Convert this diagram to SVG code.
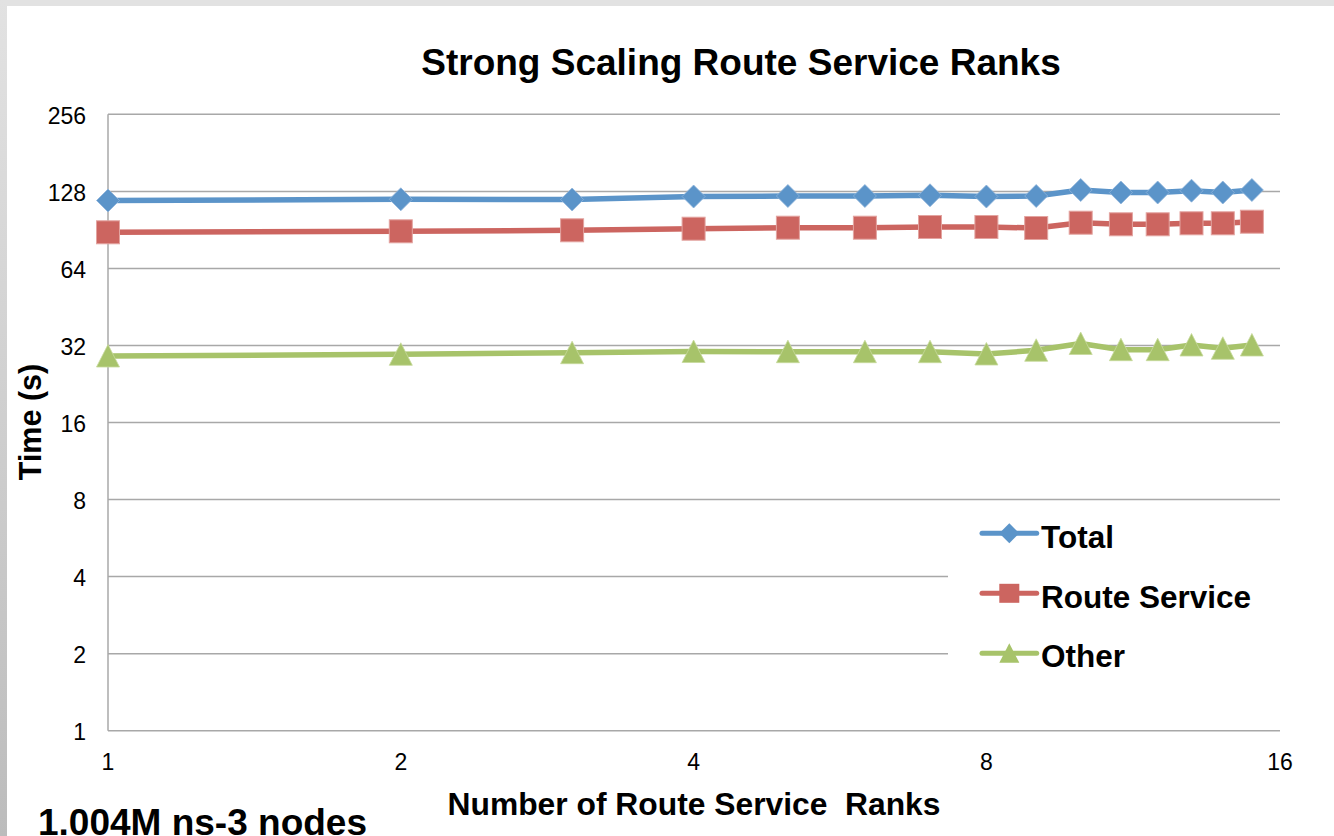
<svg xmlns="http://www.w3.org/2000/svg" width="1334" height="836" viewBox="0 0 1334 836">
  <style>
    text { font-family: "Liberation Sans", Arial, sans-serif; fill: #000; }
    .tick { font-size: 23px; }
    .ylab { text-anchor: end; }
    .xlab { text-anchor: middle; }
    .bold { font-weight: bold; }
    .grid { stroke: #a8a8a8; stroke-width: 1.5; fill: none; }
    .series { fill: none; stroke-width: 5.5; stroke-linejoin: round; stroke-linecap: round; }
    .legline { fill: none; stroke-width: 5; stroke-linecap: round; }
  </style>
  <defs>
    <linearGradient id="edgeLeft" x1="0" y1="0" x2="0" y2="1">
      <stop offset="0" stop-color="#e2e2e2"/>
      <stop offset="1" stop-color="#bcbcbc"/>
    </linearGradient>
    <!-- series markers -->
    <marker id="mDiamond" markerUnits="userSpaceOnUse" viewBox="-13 -13 26 26" markerWidth="26" markerHeight="26" refX="0" refY="0" overflow="visible">
      <polygon points="0,-11.5 11.5,0 0,11.5 -11.5,0" fill="#5b94c9" stroke="#8fb4da" stroke-width="0.8"/>
    </marker>
    <marker id="mSquare" markerUnits="userSpaceOnUse" viewBox="-13 -13 26 26" markerWidth="26" markerHeight="26" refX="0" refY="0" overflow="visible">
      <rect x="-11.5" y="-11.5" width="23" height="23" fill="#cc6560" stroke="#e3a4a0" stroke-width="1"/>
    </marker>
    <marker id="mTriangle" markerUnits="userSpaceOnUse" viewBox="-13 -13 26 26" markerWidth="26" markerHeight="26" refX="0" refY="0" overflow="visible">
      <polygon points="0,-11.5 11.5,11 -11.5,11" fill="#a7c36a" stroke="#c6d99c" stroke-width="0.8"/>
    </marker>
    <!-- legend markers (slightly smaller) -->
    <marker id="lDiamond" markerUnits="userSpaceOnUse" viewBox="-11 -11 22 22" markerWidth="22" markerHeight="22" refX="0" refY="0" overflow="visible">
      <polygon points="0,-10 10,0 0,10 -10,0" fill="#5b94c9"/>
    </marker>
    <marker id="lSquare" markerUnits="userSpaceOnUse" viewBox="-11 -11 22 22" markerWidth="22" markerHeight="22" refX="0" refY="0" overflow="visible">
      <rect x="-10" y="-9.5" width="20" height="19" fill="#cc6560"/>
    </marker>
    <marker id="lTriangle" markerUnits="userSpaceOnUse" viewBox="-11 -11 22 22" markerWidth="22" markerHeight="22" refX="0" refY="0" overflow="visible">
      <polygon points="0,-10 10,9.5 -10,9.5" fill="#a7c36a"/>
    </marker>
  </defs>

  <!-- page background with the grey window edge -->
  <rect x="0" y="0" width="1334" height="836" fill="#ffffff"/>
  <rect x="0" y="0" width="1334" height="6" fill="#e2e2e2"/>
  <rect x="0" y="0" width="7" height="836" fill="url(#edgeLeft)"/>

  <!-- title -->
  <text id="title" class="bold" x="741" y="75" font-size="37" text-anchor="middle">Strong Scaling Route Service Ranks</text>

  <!-- gridlines (log2 scale, 77.05 px per doubling) -->
  <g id="grid">
    <line class="grid" x1="108" y1="114.3" x2="1280" y2="114.3"/>
    <line class="grid" x1="108" y1="191.4" x2="1280" y2="191.4"/>
    <line class="grid" x1="108" y1="268.4" x2="1280" y2="268.4"/>
    <line class="grid" x1="108" y1="345.5" x2="1280" y2="345.5"/>
    <line class="grid" x1="108" y1="422.5" x2="1280" y2="422.5"/>
    <line class="grid" x1="108" y1="499.6" x2="1280" y2="499.6"/>
    <line class="grid" x1="108" y1="576.6" x2="1280" y2="576.6"/>
    <line class="grid" x1="108" y1="653.7" x2="1280" y2="653.7"/>
    <line class="grid" x1="108" y1="730.7" x2="1280" y2="730.7"/>
    <line class="grid" x1="108" y1="114.3" x2="108" y2="730.7"/>
  </g>

  <!-- axis tick labels -->
  <g id="y-axis" class="tick ylab">
    <text x="86" y="123.8">256</text>
    <text x="86" y="200.9">128</text>
    <text x="86" y="277.9">64</text>
    <text x="86" y="355">32</text>
    <text x="86" y="432">16</text>
    <text x="86" y="509.1">8</text>
    <text x="86" y="586.1">4</text>
    <text x="86" y="663.2">2</text>
    <text x="86" y="740.2">1</text>
  </g>
  <g id="x-axis" class="tick xlab">
    <text x="108" y="769.5">1</text>
    <text x="400.8" y="769.5">2</text>
    <text x="693.6" y="769.5">4</text>
    <text x="986.4" y="769.5">8</text>
    <text x="1280" y="769.5">16</text>
  </g>

  <!-- axis titles -->
  <text id="y-title" class="bold" font-size="30.5" text-anchor="middle" transform="translate(41,422) rotate(-90)">Time (s)</text>
  <text id="x-title" class="bold" font-size="31.8" text-anchor="middle" x="694" y="815" xml:space="preserve">Number of Route Service  Ranks</text>

  <!-- legend panel (hides the gridlines behind it) -->
  <g id="legend">
    <rect x="948" y="506" width="340" height="212" fill="#ffffff"/>
    <path class="legline" d="M982,533.3 L1009.3,533.3 L1036.7,533.3" stroke="#5b94c9" marker-mid="url(#lDiamond)"/>
    <text class="bold" x="1041" y="548.3" font-size="31.5">Total</text>
    <path class="legline" d="M982,593.3 L1009.3,593.3 L1036.7,593.3" stroke="#cc6560" marker-mid="url(#lSquare)"/>
    <text class="bold" x="1041" y="607.7" font-size="31.5">Route Service</text>
    <path class="legline" d="M982,653.3 L1009.3,653.3 L1036.7,653.3" stroke="#a7c36a" marker-mid="url(#lTriangle)"/>
    <text class="bold" x="1041" y="666.7" font-size="31.5">Other</text>
  </g>

  <!-- data series: ranks 1..15, x = 108 + 292.8*log2(n) -->
  <g id="series">
    <polyline id="series-other" class="series" stroke="#a7c36a"
      marker-start="url(#mTriangle)" marker-mid="url(#mTriangle)" marker-end="url(#mTriangle)"
      points="108,356 400.8,354.3 572.1,352.7 693.6,351.5 787.9,351.7 864.9,351.7 930,351.7 986.4,354 1036.2,350.3 1080.7,343.5 1120.9,349.7 1157.7,349.7 1191.5,345 1222.8,348.3 1251.9,345"/>
    <polyline id="series-route" class="series" stroke="#cc6560"
      marker-start="url(#mSquare)" marker-mid="url(#mSquare)" marker-end="url(#mSquare)"
      points="108,232.3 400.8,231.3 572.1,230.3 693.6,228.7 787.9,227.7 864.9,227.7 930,227 986.4,227 1036.2,228 1080.7,222.7 1120.9,224.3 1157.7,224.3 1191.5,223.3 1222.8,223.3 1251.9,221.7"/>
    <polyline id="series-total" class="series" stroke="#5b94c9"
      marker-start="url(#mDiamond)" marker-mid="url(#mDiamond)" marker-end="url(#mDiamond)"
      points="108,200.5 400.8,199.3 572.1,199.5 693.6,196.5 787.9,196 864.9,196 930,195.3 986.4,196.5 1036.2,196 1080.7,190 1120.9,192.5 1157.7,192.5 1191.5,190.7 1222.8,192.5 1251.9,190"/>
  </g>

  <!-- footnote -->
  <text id="note" class="bold" x="38" y="835" font-size="37">1.004M ns-3 nodes</text>
</svg>
